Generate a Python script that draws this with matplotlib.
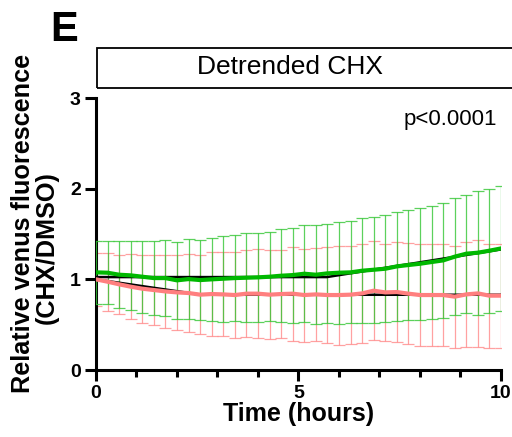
import numpy as np
import matplotlib
matplotlib.use("Agg")
from matplotlib import pyplot as plt
from matplotlib.patches import Rectangle

plt.rcParams['font.family'] = ['Liberation Sans', 'DejaVu Sans']

# time points (hours), 36 frames over 10 h
time_h = np.linspace(0, 10, 36)

# green series (mean and SD)
green_mean = [1.077, 1.073, 1.051, 1.044, 1.029, 1.014, 1.014, 0.989, 1.003, 0.992,
              1.000, 1.007, 1.014, 1.018, 1.022, 1.029, 1.040, 1.047, 1.062, 1.051,
              1.066, 1.073, 1.077, 1.095, 1.106, 1.117, 1.143, 1.158, 1.172, 1.191,
              1.209, 1.250, 1.283, 1.294, 1.316, 1.341]
green_sd = [0.349, 0.347, 0.371, 0.384, 0.399, 0.412, 0.423, 0.426, 0.439, 0.445,
            0.458, 0.472, 0.476, 0.489, 0.489, 0.489, 0.513, 0.524, 0.537, 0.546,
            0.549, 0.562, 0.562, 0.579, 0.586, 0.590, 0.599, 0.606, 0.617, 0.623,
            0.634, 0.645, 0.650, 0.684, 0.682, 0.685]

# red series (mean and SD)
red_mean = [1.000, 0.974, 0.945, 0.919, 0.897, 0.882, 0.867, 0.856, 0.849, 0.831,
            0.838, 0.834, 0.827, 0.842, 0.842, 0.831, 0.838, 0.842, 0.827, 0.834,
            0.827, 0.827, 0.831, 0.845, 0.875, 0.856, 0.860, 0.842, 0.827, 0.827,
            0.827, 0.809, 0.834, 0.845, 0.820, 0.820]
red_sd = [0.296, 0.318, 0.327, 0.358, 0.377, 0.390, 0.404, 0.415, 0.432, 0.434,
          0.459, 0.463, 0.472, 0.483, 0.492, 0.492, 0.489, 0.518, 0.513, 0.513,
          0.531, 0.546, 0.542, 0.549, 0.546, 0.533, 0.555, 0.557, 0.564, 0.560,
          0.560, 0.564, 0.581, 0.586, 0.575, 0.575]

# segmented fits (black lines)
fit_green_x = [0, 5.7, 10]
fit_green_y = [1.025, 1.025, 1.33]
fit_red_x = [0, 2.6, 10]
fit_red_y = [1.0, 0.83, 0.83]

fig = plt.figure(figsize=(5.12, 4.37), dpi=100)
ax = fig.add_axes([0.1875, 0.1533, 0.791, 0.6224])

green = '#00b800'
red = '#ff7f7f'

ax.errorbar(time_h, red_mean, yerr=red_sd, fmt='none', ecolor='#ff8a8a',
            elinewidth=0.9, capsize=4.5, capthick=0.9, alpha=0.8, zorder=2)
ax.errorbar(time_h, green_mean, yerr=green_sd, fmt='none', ecolor='#33c633',
            elinewidth=0.9, capsize=4.5, capthick=0.9, alpha=0.8, zorder=3)
ax.plot(fit_red_x, fit_red_y, color='black', lw=1.8, zorder=4)
ax.plot(fit_green_x, fit_green_y, color='black', lw=1.8, zorder=4)
ax.plot(time_h, red_mean, color=red, lw=3, zorder=5)
ax.plot(time_h, green_mean, color=green, lw=3, zorder=6)

ax.set_xlim(0, 10)
ax.set_ylim(0, 3)
ax.set_xticks([0, 5, 10])
ax.set_xticks(np.arange(0, 11, 1), minor=True)
ax.set_yticks([0, 1, 2, 3])
for s in ['top', 'right']:
    ax.spines[s].set_visible(False)
for s in ['left', 'bottom']:
    ax.spines[s].set_linewidth(2.2)
ax.tick_params(axis='both', which='major', length=8, width=2.2,
               labelsize=14, pad=3)
ax.tick_params(axis='x', which='minor', length=5, width=2.2)
ax.tick_params(axis='y', which='minor', length=0)
for lab in ax.get_xticklabels() + ax.get_yticklabels():
    lab.set_fontweight('bold')

ax.set_xlabel('Time (hours)', fontsize=18, fontweight='bold', labelpad=0)
# the two y-label lines are placed separately, as in the original
fig.text(23 / 512, 1 - 223 / 437, 'Relative venus fluorescence',
         rotation=90, ha='center', va='center', fontsize=18.2, fontweight='bold')
fig.text(47 / 512, 1 - 248 / 437, '(CHX/DMSO)',
         rotation=90, ha='center', va='center', fontsize=18.2, fontweight='bold')

ax.text(0.99, 0.96, 'p<0.0001', transform=ax.transAxes, ha='right', va='top',
        fontsize=16)

# title strip
fig.patches.append(Rectangle((97 / 512, 1 - 88 / 437), 0.9, 40 / 437,
                             transform=fig.transFigure, fill=False,
                             edgecolor='black', lw=1.3))
fig.text(290 / 512, 1 - 67 / 437, 'Detrended CHX', ha='center', va='center',
         fontsize=19)
fig.text(50 / 512, 1 - 30 / 437, 'E', ha='left', va='center', fontsize=30,
         fontweight='bold')

fig.savefig('out.png', dpi=100)
